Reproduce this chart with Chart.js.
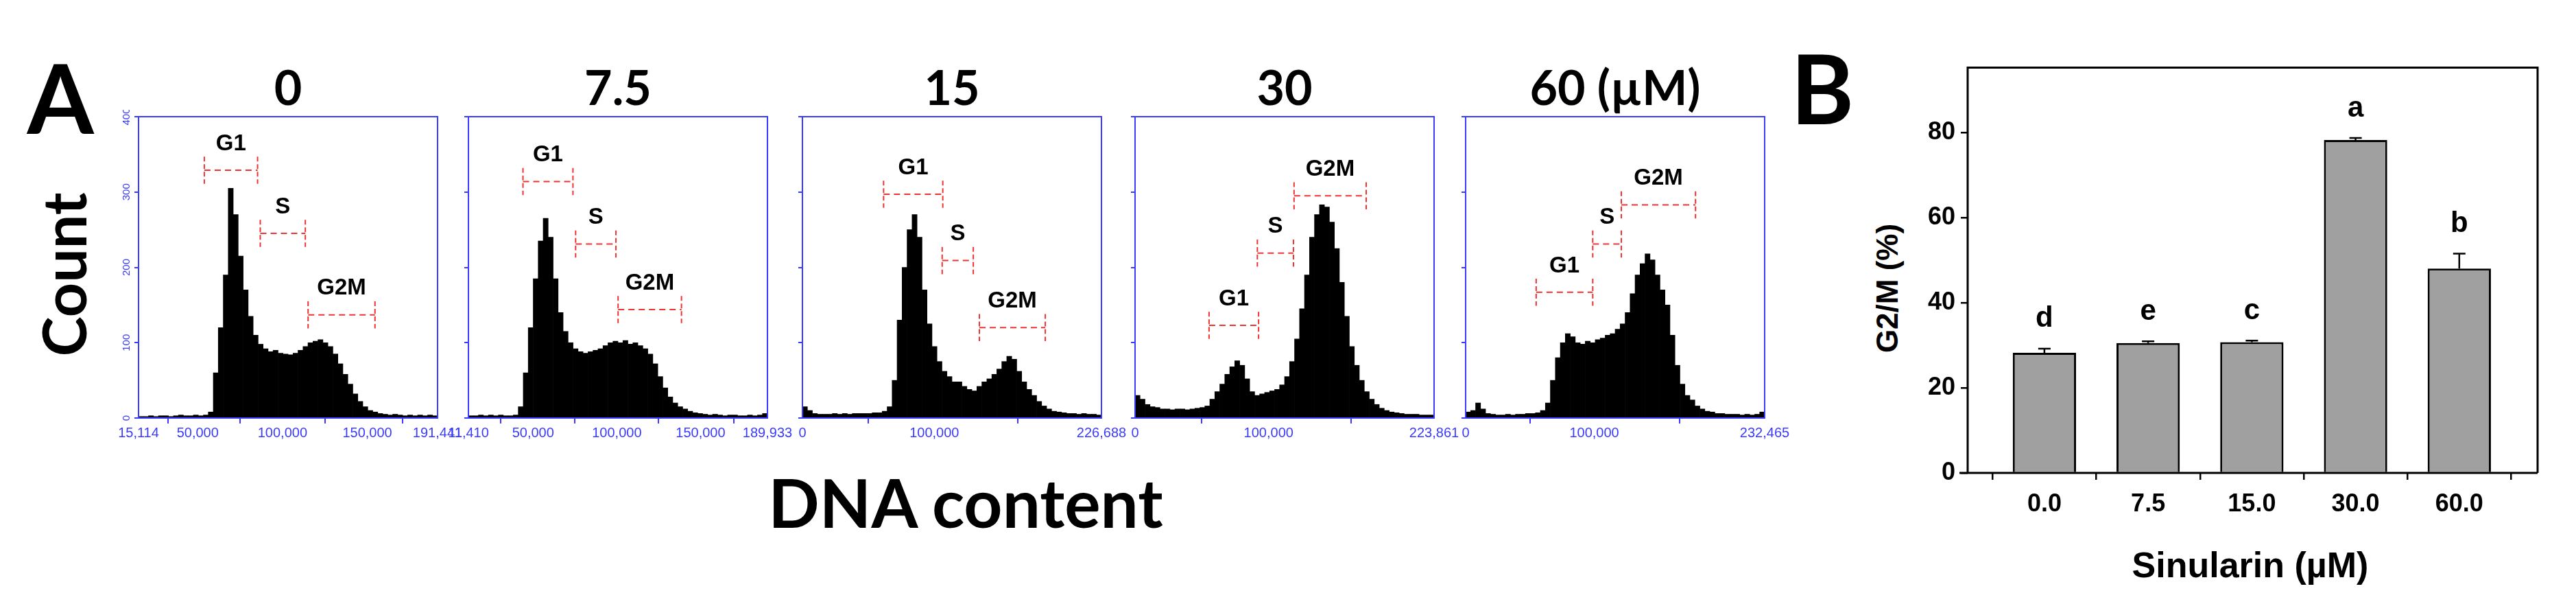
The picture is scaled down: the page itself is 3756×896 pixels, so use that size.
<!DOCTYPE html>
<html>
<head>
<meta charset="utf-8">
<script src="https://cdn.jsdelivr.net/npm/chart.js@4.4.1/dist/chart.umd.min.js"></script>
<style>
  body { margin: 0; background: #fff; width: 3756px; height: 896px; position: relative; overflow: hidden; }
  .box { position: absolute; }
  .txt { position: absolute; transform: translate(-50%, -50%); white-space: nowrap; font-weight: bold; color: #000; line-height: 1; }
  .big { font-family: Lato, "Open Sans", sans-serif; }
  .narrow { font-family: "Liberation Sans Narrow", "Liberation Sans", sans-serif; }
</style>
</head>
<body>

<div class="txt big" style="left:88px;top:141px;font-size:140px">A</div>
<div class="txt big" style="left:2657px;top:127px;font-size:140px">B</div>
<div class="txt big" style="left:92px;top:400px;font-size:88px;transform:translate(-50%,-50%) rotate(-90deg)">Count</div>
<div class="txt big" style="left:1408px;top:731px;font-size:98px">DNA content</div>
<div class="txt narrow" style="left:2752px;top:420px;font-size:44px;transform:translate(-50%,-50%) rotate(-90deg)">G2/M (%)</div>
<div class="txt narrow" style="left:3281px;top:823px;font-size:52px">Sinularin (µM)</div>

<script>
// ---- panel A: DNA histograms ----
const panelTitles = ["0", "7.5", "15", "30", "60 (µM)"];
const panelRanges = [[15114, 191441], [11410, 189933], [0, 226688], [0, 223861], [0, 232465]];
const panelTicks = [
  [15114, 50000, 100000, 150000, 191441],
  [11410, 50000, 100000, 150000, 189933],
  [0, 100000, 226688],
  [0, 100000, 223861],
  [0, 100000, 232465]
];

const counts0 = [2,2,3,2,3,3,2,3,4,3,3,4,3,4,8,60,120,190,305,270,215,170,135,110,98,92,88,90,86,85,
  84,86,90,95,100,102,104,100,95,85,72,58,45,32,22,15,10,8,6,5,4,5,4,3,4,3,4,3,4,3];
const counts7 = [3,3,4,3,4,3,4,3,3,4,15,60,120,185,235,265,240,185,140,115,100,92,88,86,88,90,92,96,100,102,
  100,103,98,100,96,92,85,72,55,40,28,20,15,12,9,7,6,5,4,5,4,3,4,4,3,3,4,3,4,6];
const counts15 = [15,10,6,5,5,5,6,5,6,5,6,6,6,6,7,7,9,15,50,130,200,250,270,240,170,125,95,75,62,55,
  48,48,42,38,36,42,48,52,58,65,75,82,78,62,48,38,30,22,16,12,9,8,7,6,6,5,6,5,5,4];
const counts30 = [30,25,18,15,14,12,12,11,12,12,11,12,13,14,16,25,35,45,58,68,76,70,52,35,30,32,34,36,38,44,
  55,75,105,145,190,240,270,283,280,260,225,180,135,95,70,50,35,25,18,13,10,8,7,6,5,5,5,4,4,4];
const counts60 = [8,10,20,12,6,5,4,4,5,4,5,5,6,6,7,10,20,50,80,100,112,108,100,98,102,100,104,106,110,112,
  118,125,140,165,190,205,218,210,190,170,150,110,70,45,30,24,16,12,9,8,6,6,5,5,5,4,5,4,5,8];
const panelCounts = [counts0, counts7, counts15, counts30, counts60];

// gates: [from, to, count level, label]
const panelGates = [
  [[53900, 85300, 329, "G1"], [86900, 113460, 245, "S"], [115100, 154540, 137, "G2M"]],
  [[43970, 73810, 314, "G1"], [75410, 99470, 231, "S"], [100760, 138610, 144, "G2M"]],
  [[61530, 106400, 297, "G1"], [105940, 129530, 209, "S"], [134150, 184120, 120, "G2M"]],
  [[55400, 92480, 123, "G1"], [91560, 118570, 219, "S"], [119030, 173050, 295, "G2M"]],
  [[54840, 98820, 167, "G1"], [98820, 121040, 231, "S"], [121040, 178720, 283, "G2M"]]
];
const countTicks = [0, 100, 200, 300, 400];

// ---- panel B: G2/M bars ----
const doses = ["0.0", "7.5", "15.0", "30.0", "60.0"];
const g2m = [28.2, 30.5, 30.7, 78.2, 48.0];
const g2mErr = [1.0, 0.4, 0.4, 0.5, 3.5];
const sigLetters = ["d", "e", "c", "a", "b"];

const blue = "#3b3bff";
const plotLefts = [202, 683, 1170, 1655, 2137];
const plotW = 436, plotTop = 170, plotH = 439;

function addBox(left, top, w, h) {
  let d = document.createElement("div");
  d.className = "box";
  d.style.left = left + "px"; d.style.top = top + "px";
  d.style.width = w + "px"; d.style.height = h + "px";
  let c = document.createElement("canvas");
  d.appendChild(c);
  document.body.appendChild(d);
  return c;
}

const histPlugin = {
  id: "hist",
  afterDraw(chart, args, opts) {
    const ctx = chart.ctx, a = chart.chartArea;
    const xs = chart.scales.x, ys = chart.scales.y;
    ctx.save();
    ctx.strokeStyle = blue; ctx.lineWidth = 2;
    ctx.strokeRect(a.left, a.top, a.right - a.left, a.bottom - a.top);
    // gates
    opts.gates.forEach(function (g) {
      let x1 = xs.getPixelForValue(g[0]), x2 = xs.getPixelForValue(g[1]);
      let y = ys.getPixelForValue(g[2]);
      let dy = ys.getPixelForValue(0) - ys.getPixelForValue(18);
      ctx.strokeStyle = "#ee3333"; ctx.lineWidth = 2;
      ctx.setLineDash([9, 6]);
      ctx.beginPath(); ctx.moveTo(x1, y); ctx.lineTo(x2, y); ctx.stroke();
      ctx.setLineDash([7, 4]);
      ctx.beginPath();
      ctx.moveTo(x1, y - dy); ctx.lineTo(x1, y + dy);
      ctx.moveTo(x2, y - dy); ctx.lineTo(x2, y + dy);
      ctx.stroke();
      ctx.setLineDash([]);
      ctx.fillStyle = "#000";
      ctx.font = "bold 33px 'Liberation Sans', sans-serif";
      ctx.textAlign = "center"; ctx.textBaseline = "bottom";
      ctx.fillText(g[3], (x1 + x2) / 2, y - dy - 2);
    });
    if (opts.yLabels) {
      ctx.fillStyle = blue;
      ctx.font = "15px 'Liberation Sans Narrow', sans-serif";
      ctx.textAlign = "center"; ctx.textBaseline = "bottom";
      countTicks.forEach(function (v) {
        let y = ys.getPixelForValue(v);
        ctx.save();
        ctx.translate(a.left - 10, y);
        ctx.rotate(-Math.PI / 2);
        ctx.fillText(String(v), 0, 0);
        ctx.restore();
      });
    }
    ctx.restore();
  }
};

panelCounts.forEach(function (counts, p) {
  let lo = panelRanges[p][0], hi = panelRanges[p][1];
  let step = (hi - lo) / counts.length;
  let pts = counts.map(function (c, i) { return { x: lo + step * (i + 0.5), y: c }; });
  let canvas = addBox(plotLefts[p] - 60, plotTop - 10, plotW + 100, plotH + 60);
  new Chart(canvas, {
    type: "bar",
    data: { datasets: [{ data: pts, backgroundColor: "#000", borderWidth: 0,
      barPercentage: 1.0, categoryPercentage: 1.0 }] },
    plugins: [histPlugin],
    options: {
      responsive: true,
      maintainAspectRatio: false,
      animation: false,
      layout: { padding: { top: 10, right: 40 } },
      plugins: {
        legend: { display: false },
        tooltip: { enabled: false },
        hist: { gates: panelGates[p], yLabels: p == 0 }
      },
      scales: {
        x: {
          type: "linear", min: lo, max: hi, offset: false,
          afterFit: function (s) { s.height = 50; },
          afterBuildTicks: function (s) { s.ticks = panelTicks[p].map(function (v) { return { value: v }; }); },
          grid: { drawOnChartArea: false, color: blue, tickLength: 8, lineWidth: 2 },
          border: { color: blue, width: 2 },
          ticks: { color: blue, maxRotation: 0, autoSkip: false, padding: 2,
            font: { family: "'Liberation Sans Narrow', sans-serif", size: 20 },
            callback: function (v) { return v.toLocaleString("en-US"); } }
        },
        y: {
          min: 0, max: 400,
          afterFit: function (s) { s.width = 60; },
          afterBuildTicks: function (s) { s.ticks = countTicks.map(function (v) { return { value: v }; }); },
          grid: { drawOnChartArea: false, color: blue, tickLength: 6, lineWidth: 2 },
          border: { color: blue, width: 2 },
          ticks: { display: false }
        }
      }
    }
  });
  let t = document.createElement("div");
  t.className = "txt big";
  t.style.left = (plotLefts[p] + plotW / 2) + "px";
  t.style.top = "126px";
  t.style.fontSize = "70px";
  t.textContent = panelTitles[p];
  document.body.appendChild(t);
});

// ---- panel B chart ----
const barPlugin = {
  id: "barDeco",
  afterDatasetsDraw(chart) {
    const ctx = chart.ctx, a = chart.chartArea;
    const xs = chart.scales.x, ys = chart.scales.y;
    ctx.save();
    ctx.strokeStyle = "#000"; ctx.lineWidth = 3;
    ctx.beginPath();
    ctx.moveTo(a.left, a.bottom); ctx.lineTo(a.left, a.top);
    ctx.lineTo(a.right, a.top); ctx.lineTo(a.right, a.bottom);
    ctx.moveTo(a.left - 12, a.bottom); ctx.lineTo(a.right, a.bottom);
    ctx.stroke();
    ctx.lineWidth = 2.5;
    g2m.forEach(function (v, i) {
      let x = xs.getPixelForValue(i);
      let y0 = ys.getPixelForValue(v), y1 = ys.getPixelForValue(v + g2mErr[i]);
      ctx.beginPath();
      ctx.moveTo(x, y0); ctx.lineTo(x, y1);
      ctx.moveTo(x - 9, y1); ctx.lineTo(x + 9, y1);
      ctx.stroke();
      ctx.fillStyle = "#000";
      ctx.font = "bold 42px 'Liberation Sans Narrow', sans-serif";
      ctx.textAlign = "center"; ctx.textBaseline = "bottom";
      ctx.fillText(sigLetters[i], x, y1 - 22);
    });
    ctx.restore();
  }
};

const barCanvas = addBox(2769, 69, 971, 710);
new Chart(barCanvas, {
  type: "bar",
  data: { datasets: [{
    data: g2m.map(function (v, i) { return { x: i, y: v }; }),
    backgroundColor: "#a0a0a0", borderColor: "#000", borderWidth: 3, borderSkipped: "bottom",
    barPercentage: 0.61, categoryPercentage: 1.0
  }] },
  plugins: [barPlugin],
  options: {
    responsive: true,
    maintainAspectRatio: false,
    animation: false,
    layout: { padding: { top: 20, right: 40 } },
    plugins: { legend: { display: false }, tooltip: { enabled: false } },
    scales: {
      x: {
        type: "linear", min: -0.74, max: 4.755, offset: false,
        afterFit: function (s) { s.height = 90; },
        afterBuildTicks: function (s) { s.ticks = doses.map(function (d, i) { return { value: i }; }); },
        grid: { drawOnChartArea: false, color: "#000", tickLength: 10, lineWidth: 2.5 },
        border: { display: false },
        ticks: { color: "#000", maxRotation: 0, autoSkip: false, padding: 14,
          font: { family: "'Liberation Sans Narrow', sans-serif", size: 36, weight: "bold" },
          callback: function (v) { return doses[v]; } }
      },
      y: {
        min: 0, max: 95.2,
        afterFit: function (s) { s.width = 100; },
        afterBuildTicks: function (s) { s.ticks = [0, 20, 40, 60, 80].map(function (v) { return { value: v }; }); },
        grid: { drawOnChartArea: false, color: "#000", tickLength: 10, lineWidth: 2.5 },
        border: { display: false },
        ticks: { color: "#000", padding: 8,
          font: { family: "'Liberation Sans Narrow', sans-serif", size: 36, weight: "bold" } }
      }
    }
  }
});
</script>
</body>
</html>
